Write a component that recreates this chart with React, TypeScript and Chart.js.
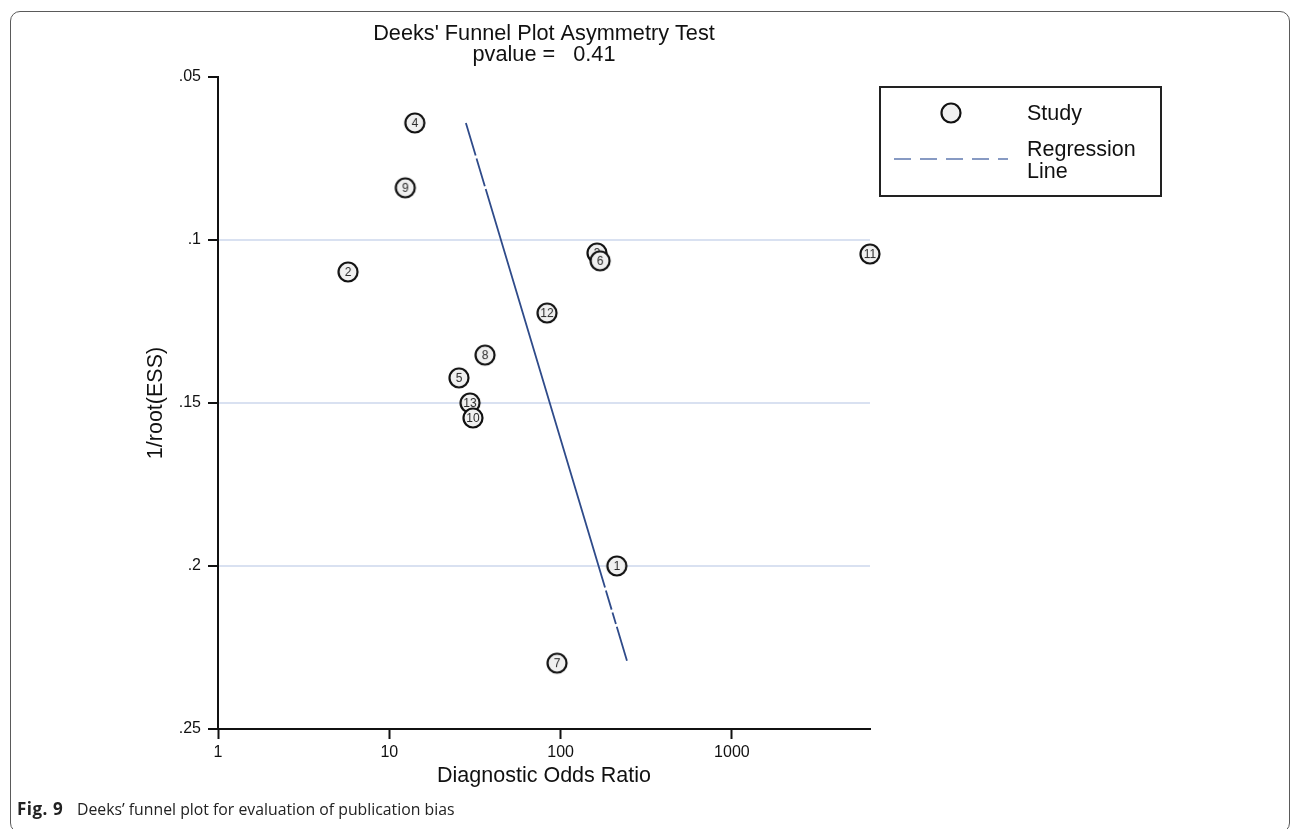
import { useEffect, useRef } from 'react';
import { Chart, registerables } from 'chart.js';

Chart.register(...registerables);

const FONT = '"Liberation Sans", Arial, Helvetica, sans-serif';

// ---- data ----
const chartTitle = ["Deeks' Funnel Plot Asymmetry Test", 'pvalue =   0.41'];
const xAxisTitle = 'Diagnostic Odds Ratio';
const yAxisTitle = '1/root(ESS)';
const studyIds = ['1', '2', '3', '4', '5', '6', '7', '8', '9', '11', '12', '13', '10'];
const diagnosticOddsRatio = [213, 5.74, 163, 14.1, 25.5, 170, 95.3, 36.2, 12.4, 6400, 83.3, 29.6, 30.8];
const invRootEss = [0.2, 0.1098, 0.104, 0.0641, 0.1423, 0.1064, 0.2298, 0.1353, 0.084, 0.1043, 0.1224, 0.15, 0.1546];
const regressionX = [28.0, 244];
const regressionY = [0.0641, 0.2291];
const xTicks = [1, 10, 100, 1000];
const xTickLabels = ['1', '10', '100', '1000'];
const yTicks = [0.05, 0.1, 0.15, 0.2, 0.25];
const yTickLabels = ['.05', '.1', '.15', '.2', '.25'];
const gridValues = [0.1, 0.15, 0.2];
const legendLabels = ['Study', 'Regression', 'Line'];
const captionLabel = 'Fig. 9';
const captionText = 'Deeks’ funnel plot for evaluation of publication bias';

const makeMarker = (label: string) => {
  const c = document.createElement('canvas');
  c.width = 24;
  c.height = 24;
  const ctx = c.getContext('2d')!;
  ctx.beginPath();
  ctx.arc(12, 12, 9.5, 0, Math.PI * 2);
  ctx.fillStyle = '#f0f0f0';
  ctx.fill();
  ctx.lineWidth = 2.2;
  ctx.strokeStyle = '#111';
  ctx.stroke();
  if (label) {
    ctx.fillStyle = '#2a2a2a';
    ctx.font = `12px ${FONT}`;
    ctx.textAlign = 'center';
    ctx.textBaseline = 'middle';
    ctx.fillText(label, 12, 12.5);
  }
  return c;
};

const legendPlugin = {
  id: 'boxLegend',
  afterDraw(chart: any) {
    const { ctx, chartArea } = chart;
    const left = chartArea.right + 10;
    const top = chartArea.top + 10;
    const w = 281;
    const h = 109;
    ctx.save();
    ctx.lineWidth = 2;
    ctx.strokeStyle = '#222';
    ctx.strokeRect(left, top, w, h);
    ctx.drawImage(makeMarker(''), left + 71 - 12, top + 26 - 12);
    ctx.beginPath();
    ctx.setLineDash([17, 9]);
    ctx.lineWidth = 1.6;
    ctx.strokeStyle = '#6079b0';
    ctx.moveTo(left + 14, top + 72);
    ctx.lineTo(left + 128, top + 72);
    ctx.stroke();
    ctx.setLineDash([]);
    ctx.fillStyle = '#111';
    ctx.font = `21.5px ${FONT}`;
    ctx.textAlign = 'left';
    ctx.textBaseline = 'middle';
    ctx.fillText(legendLabels[0], left + 147, top + 27);
    ctx.fillText(legendLabels[1], left + 147, top + 63);
    ctx.fillText(legendLabels[2], left + 147, top + 85);
    ctx.restore();
  },
};

export default function App() {
  const ref = useRef<HTMLCanvasElement | null>(null);

  useEffect(() => {
    if (!ref.current) return;
    const markers = studyIds.map((id) => makeMarker(id));
    const chart = new Chart(ref.current, {
      type: 'scatter',
      data: {
        datasets: [
          {
            label: 'Study',
            data: diagnosticOddsRatio.map((x, i) => ({ x, y: invRootEss[i] })),
            pointStyle: markers as any,
            pointRadius: 10,
            clip: false as any,
            order: 0,
          },
          {
            label: 'Regression Line',
            type: 'line',
            data: regressionX.map((x, i) => ({ x, y: regressionY[i] })),
            showLine: true,
            borderColor: '#2f4b8a',
            borderWidth: 1.8,
            borderDash: [34, 3, 29, 3, 416, 3, 20, 3, 12, 3, 60],
            pointRadius: 0,
            fill: false,
            order: 1,
          } as any,
        ],
      },
      options: {
        animation: false,
        responsive: false,
        devicePixelRatio: 1,
        layout: { padding: { left: 139, top: 0, right: 422, bottom: 36.4 } },
        plugins: {
          legend: { display: false },
          tooltip: { enabled: false },
          title: {
            display: true,
            text: chartTitle,
            fullSize: false,
            color: '#111',
            font: { family: FONT, size: 21.7, weight: 'normal', lineHeight: '21px' },
            padding: { top: 23.5, bottom: 11.5 },
          },
        },
        scales: {
          x: {
            type: 'logarithmic',
            min: 1,
            max: 6400,
            afterBuildTicks: (scale: any) => {
              scale.ticks = xTicks.map((v) => ({ value: v }));
            },
            afterFit: (scale: any) => {
              scale.height = 63.6;
            },
            ticks: {
              color: '#111',
              font: { family: FONT, size: 16 },
              padding: 4,
              maxRotation: 0,
              autoSkip: false,
              callback: (_v: any, i: number) => xTickLabels[i],
            },
            grid: {
              drawOnChartArea: false,
              tickColor: '#111',
              tickLength: 10,
              tickWidth: 2,
            },
            border: { color: '#111', width: 2 },
            title: {
              display: true,
              text: xAxisTitle,
              color: '#111',
              font: { family: FONT, size: 21.5 },
              padding: { top: 4, bottom: 4 },
            },
          },
          y: {
            type: 'linear',
            reverse: true,
            min: 0.05,
            max: 0.25,
            afterBuildTicks: (scale: any) => {
              scale.ticks = yTicks.map((v) => ({ value: v }));
            },
            afterFit: (scale: any) => {
              scale.width = 79;
            },
            ticks: {
              color: '#111',
              font: { family: FONT, size: 16 },
              padding: 7,
              autoSkip: false,
              callback: (_v: any, i: number) => yTickLabels[i],
            },
            grid: {
              color: (ctx: any) =>
                ctx.tick && gridValues.some((g) => Math.abs(g - ctx.tick.value) < 1e-9)
                  ? '#d9e1f1'
                  : 'rgba(0,0,0,0)',
              lineWidth: 2,
              tickColor: '#111',
              tickLength: 10,
              tickWidth: 2,
            },
            border: { color: '#111', width: 2 },
            title: {
              display: true,
              text: yAxisTitle,
              color: '#111',
              font: { family: FONT, size: 21.5 },
              padding: { top: 4, bottom: 4 },
            },
          },
        },
      } as any,
      plugins: [legendPlugin],
    });
    return () => chart.destroy();
  }, []);

  return (
    <div style={{ position: 'absolute', left: 0, top: 0, width: 1292, height: 829, overflow: 'hidden', background: '#fff' }}>
      <div
        style={{
          position: 'absolute',
          left: 10,
          top: 11,
          width: 1280,
          height: 822,
          boxSizing: 'border-box',
          border: '1.5px solid #5a5a5a',
          borderRadius: 10,
        }}
      />
      <canvas ref={ref} width={1292} height={829} style={{ position: 'absolute', left: 0, top: 0 }} />
      <div
        style={{
          position: 'absolute',
          left: 17,
          top: 799,
          fontFamily: '"Open Sans", sans-serif',
          fontSize: 15.8,
          lineHeight: '20px',
          color: '#222',
          whiteSpace: 'pre',
        }}
      >
        <b style={{ display: 'inline-block', width: 60, fontSize: 17, letterSpacing: '0.5px' }}>{captionLabel}</b>
        {captionText}
      </div>
    </div>
  );
}
